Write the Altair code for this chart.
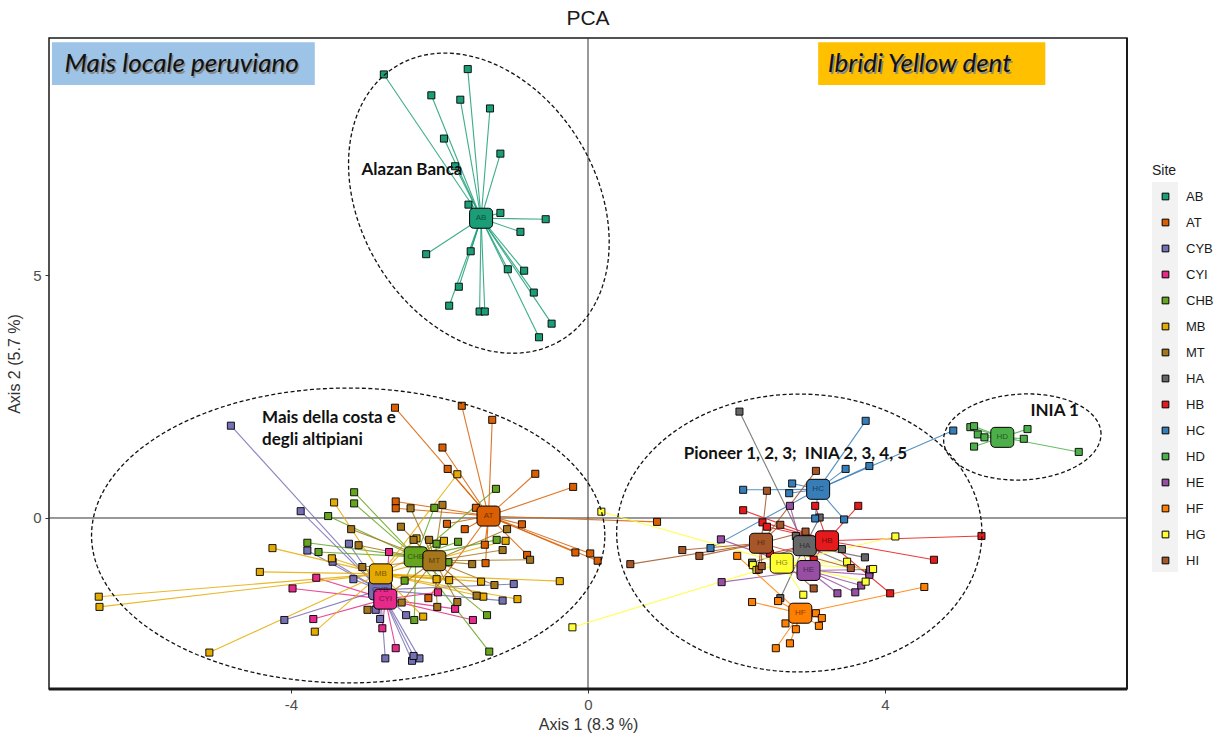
import numpy as np
import pandas as pd
import altair as alt

# Sites and their colours
sites = ["AB", "AT", "CYB", "CYI", "CHB", "MB", "MT",
         "HA", "HB", "HC", "HD", "HE", "HF", "HG", "HI"]
site_colors = ["#1B9E77", "#D95F02", "#7570B3", "#E7298A", "#66A61E", "#E6AB02", "#A6761D",
               "#666666", "#E41A1C", "#377EB8", "#4DAF4A", "#984EA3", "#FF7F00", "#FFFF33", "#A65628"]

# Individual scores on PCA axes 1 and 2, per site
ab_x = [-2.75, -1.62, -2.11, -1.72, -1.32, -1.94, -1.18, -1.79, -1.61, -1.18, -0.57, -0.91,
        -2.18, -1.58, -1.08, -0.86, -1.74, -0.73, -1.87, -1.46, -1.39, -0.49, -0.66]
ab_y = [9.13, 9.24, 8.70, 8.61, 8.43, 7.81, 7.50, 7.24, 6.45, 6.28, 6.15, 5.89,
        5.43, 5.49, 5.12, 5.09, 4.76, 4.64, 4.37, 4.25, 4.25, 4.00, 3.72]

at_x = [-2.60, -1.70, -1.29, -1.96, -1.89, -0.71, -0.20, -2.59, -2.59, -1.90, -1.66,
        -0.89, -1.39, -1.38, -0.82, -0.17, 0.03, 0.13, -2.15, 0.93, -1.51]
at_y = [2.27, 2.31, 2.02, 1.45, 1.01, 0.91, 0.64, 0.34, 0.20, -0.12, -0.23,
        -0.13, -0.55, -0.93, -0.76, -0.71, -0.73, -0.88, -1.65, -0.08, 0.21]

cyb_x = [-4.81, -3.87, -3.22, -3.78, -3.44, -3.16, -4.09, -2.80, -2.45, -2.73, -2.37,
         -2.27, -2.35, -1.00, -1.15, -2.86]
cyb_y = [1.90, 0.14, -0.53, -0.67, -0.90, -1.26, -2.10, -2.08, -2.00, -2.89, -2.94,
         -2.89, -2.84, -1.36, -1.70, -1.89]

cyi_x = [-2.68, -3.66, -3.98, -3.70, -2.77, -2.59, -2.02, -1.79, -1.55]
cyi_y = [-0.70, -1.23, -1.45, -2.08, -2.27, -2.68, -1.53, -1.87, -2.10]

chb_x = [-3.15, -3.15, -3.50, -3.78, -3.63, -1.24, -2.07, -1.75, -1.23, -2.04, -2.47,
         -2.34, -1.36, -1.33, -1.88]
chb_y = [0.53, 0.30, 0.04, -0.51, -0.70, 0.60, 0.21, -0.49, -0.45, -0.53, -1.29,
         -2.10, -2.00, -2.75, -0.91]

mb_x = [-3.42, -1.76, -4.25, -4.42, -6.59, -6.58, -5.10, -3.68, -0.38, -0.95, -1.41,
        -1.44, -1.11, -1.94, -1.87, -2.04, -3.45, -2.22, -2.31]
mb_y = [0.32, 0.90, -0.62, -1.11, -1.62, -1.83, -2.77, -2.34, -1.30, -1.67, -1.62,
        -1.31, -0.47, -0.47, -1.28, -1.26, -0.83, -2.03, -0.42]

mt_x = [-2.39, -2.52, -3.19, -3.09, -1.96, -2.14, -2.35, -1.56, -1.26, -1.50, -1.76,
        -2.03, -0.78, -1.15, -1.09, -2.97, -3.04, -2.51]
mt_y = [0.20, -0.18, -0.23, -0.56, 0.27, -0.45, -0.45, -0.95, -1.38, -1.60, -1.73,
        -1.83, -0.86, -0.66, -0.23, -1.89, -1.01, -1.74]

ha_x = [2.04, 3.12, 2.80, 3.42, 3.73, 2.59, 2.21, 3.79]
ha_y = [2.19, 0.01, -0.37, -0.64, -0.81, -1.65, -0.92, -1.13]

hb_x = [2.09, 2.35, 2.41, 3.06, 3.64, 5.30, 4.66, 4.07, 2.45, 3.04]
hb_y = [0.16, -0.09, -0.18, 0.25, 0.25, -0.37, -0.86, -1.55, -0.73, -0.86]

hc_x = [3.74, 4.92, 3.47, 3.79, 2.75, 2.09, 2.71, 3.06, 3.45, 1.65]
hc_y = [2.00, 1.80, 1.01, 1.07, 0.71, 0.58, 0.51, -0.01, -0.03, -0.62]

hd_x = [5.15, 5.20, 5.25, 5.34, 5.20, 5.92, 5.87, 6.61]
hd_y = [1.87, 1.89, 1.72, 1.66, 1.47, 1.83, 1.63, 1.36]

he_x = [2.72, 1.79, 1.80, 3.36, 3.60, 3.68, 3.79, 3.80]
he_y = [0.25, -0.44, -1.32, -1.55, -1.53, -1.39, -1.17, -1.06]

hf_x = [2.21, 2.56, 2.01, 4.53, 3.07, 3.15, 3.11, 2.66, 2.80, 2.72, 2.53]
hf_y = [-1.73, -1.71, -0.78, -1.42, -1.96, -2.06, -2.22, -2.17, -2.29, -2.58, -2.68]

hg_x = [4.14, 3.49, 3.84, 3.74, 2.90, 2.22, 2.27, 0.18, -0.21]
hg_y = [-0.38, -0.90, -1.05, -1.31, -1.58, -0.97, -1.07, 0.13, -2.25]

hi_x = [3.07, 2.41, 2.59, 2.93, 1.27, 1.50, 0.57, 2.30, 3.54, 3.04, 2.34]
hi_y = [0.97, 0.56, -0.14, -0.28, -0.66, -0.78, -0.95, -1.06, -1.03, -1.45, -0.99]

# Site centroids (where the site labels sit)
centroid_x = [-1.44, -1.34, -2.80, -2.73, -2.32, -2.79, -2.07,
              2.92, 3.22, 3.10, 5.58, 2.97, 2.86, 2.61, 2.33]
centroid_y = [6.17, 0.04, -1.48, -1.67, -0.80, -1.15, -0.88,
              -0.57, -0.47, 0.59, 1.66, -1.08, -1.96, -0.93, -0.52]

# Dashed group ellipses: centre and two conjugate half-axis vectors
ellipse_names = ["alazan", "costa", "ibridi", "inia1"]
ellipse_cx = [-1.47, -3.23, 2.846, 5.85]
ellipse_cy = [6.48, -0.36, -0.309, 1.667]
ellipse_ux = [1.10, 3.457, 2.46, 1.06]
ellipse_uy = [-2.83, 0.0, 0.0, 0.06]
ellipse_vx = [-1.368, 0.0, 0.0, 0.0]
ellipse_vy = [-1.239, 3.035, 2.86, 0.885]

# Header boxes
box_text = ["Mais locale peruviano", "Ibridi Yellow dent"]
box_fill = ["#9DC3E6", "#FFC000"]
box_x1 = [-7.22, 3.10]
box_x2 = [-3.68, 6.16]
box_y1 = [8.91, 8.91]
box_y2 = [9.79, 9.79]
box_text_x = [-7.05, 3.23]
box_text_y = [9.34, 9.34]

# Group notes
note_text = ["Alazan Banca", "Mais della costa e", "degli altipiani",
             "Pioneer 1, 2, 3;\u00a0 INIA 2, 3, 4, 5", "INIA 1"]
note_x = [-3.05, -4.39, -4.39, 1.29, 5.96]
note_y = [7.16, 2.06, 1.60, 1.32, 2.20]

# ---- tables -------------------------------------------------------------
scores = {
    "AB": (ab_x, ab_y), "AT": (at_x, at_y), "CYB": (cyb_x, cyb_y), "CYI": (cyi_x, cyi_y),
    "CHB": (chb_x, chb_y), "MB": (mb_x, mb_y), "MT": (mt_x, mt_y), "HA": (ha_x, ha_y),
    "HB": (hb_x, hb_y), "HC": (hc_x, hc_y), "HD": (hd_x, hd_y), "HE": (he_x, he_y),
    "HF": (hf_x, hf_y), "HG": (hg_x, hg_y), "HI": (hi_x, hi_y),
}
cent = pd.DataFrame({"site": sites, "cx": centroid_x, "cy": centroid_y})
rows = []
for s in sites:
    xs, ys = scores[s]
    c = cent[cent.site == s].iloc[0]
    for xv, yv in zip(xs, ys):
        rows.append({"site": s, "x": xv, "y": yv, "cx": c.cx, "cy": c.cy})
pts = pd.DataFrame(rows)

t = np.linspace(0, 2 * np.pi, 181)
ell_rows = []
for k, name in enumerate(ellipse_names):
    ex = ellipse_cx[k] + ellipse_ux[k] * np.cos(t) + ellipse_vx[k] * np.sin(t)
    ey = ellipse_cy[k] + ellipse_uy[k] * np.cos(t) + ellipse_vy[k] * np.sin(t)
    for i, (a, b) in enumerate(zip(ex, ey)):
        ell_rows.append({"ell": name, "i": i, "x": float(a), "y": float(b)})
ell = pd.DataFrame(ell_rows)

boxes = pd.DataFrame({"label": box_text, "fill": box_fill, "x1": box_x1, "x2": box_x2,
                      "y1": box_y1, "y2": box_y2, "tx": box_text_x, "ty": box_text_y})
notes = pd.DataFrame({"label": note_text, "x": note_x, "y": note_y})
one = pd.DataFrame({"k": [0]})

# ---- scales & axes ------------------------------------------------------
W, H = 1078, 651
FONT = "Liberation Sans"
xscale = alt.Scale(domain=[-7.26, 7.26], nice=False, zero=False)
yscale = alt.Scale(domain=[-3.52, 9.88], nice=False, zero=False)
xaxis = alt.Axis(values=[-4, 0, 4], grid=False, domain=False, tickColor="#333333", tickSize=4,
                 labelFontSize=15, labelColor="#4D4D4D", labelFont=FONT, labelPadding=4,
                 labelExpr="datum.value", title="Axis 1 (8.3 %)", titleFont=FONT,
                 titleFontSize=16, titleFontWeight="normal", titleColor="#333333", titlePadding=4)
yaxis = alt.Axis(values=[0, 5], grid=False, domain=False, tickColor="#333333", tickSize=4,
                 labelFontSize=15, labelColor="#4D4D4D", labelFont=FONT, labelPadding=4,
                 title="Axis 2 (5.7 %)", titleFont=FONT, titleFontSize=16,
                 titleFontWeight="normal", titleColor="#333333", titlePadding=10)


def X(f):
    return alt.X(f, type="quantitative", scale=xscale, axis=xaxis)


def Y(f):
    return alt.Y(f, type="quantitative", scale=yscale, axis=yaxis)


def site_scale():
    return alt.Scale(domain=sites, range=site_colors)


legend = alt.Legend(title="Site", orient="none", legendX=1103, legendY=126,
                    symbolType="square", symbolSize=45, symbolStrokeColor="black",
                    symbolStrokeWidth=1, symbolOpacity=1, symbolOffset=7, labelOffset=14,
                    labelFont=FONT, labelFontSize=13, labelColor="#1a1a1a",
                    titleFont=FONT, titleFontSize=14, titleFontWeight="normal",
                    titleColor="#1a1a1a", titlePadding=12, rowPadding=12)

# ---- layers -------------------------------------------------------------
key_band = alt.Chart(one).mark_rect(color="#F2F2F2").encode(
    x=alt.value(1103), x2=alt.value(1129), y=alt.value(144), y2=alt.value(534))

vzero = alt.Chart(one).mark_rule(color="#333333", strokeWidth=1).encode(x=alt.datum(0))
hzero = alt.Chart(one).mark_rule(color="#333333", strokeWidth=1).encode(y=alt.datum(0))

# spokes from each sample to its site centroid (stroke channel)
spokes = alt.Chart(pts).mark_rule(strokeWidth=1.1, opacity=0.85).encode(
    x=X("x"), y=Y("y"), x2="cx", y2="cy",
    stroke=alt.Stroke("site:N", scale=site_scale(), legend=None))

# samples (fill channel, carries the legend)
dots = alt.Chart(pts).mark_square(size=50, opacity=1, stroke="black", strokeWidth=0.9,
                                  filled=True).encode(
    x=X("x"), y=Y("y"),
    fill=alt.Fill("site:N", scale=site_scale(), legend=legend, sort=sites))

# centroid tags (color channel)
tags = alt.Chart(cent).mark_rect(width=23, height=20, cornerRadius=4, stroke="black",
                                 strokeWidth=1, opacity=1).encode(
    x=X("cx"), y=Y("cy"), color=alt.Color("site:N", scale=site_scale(), legend=None))

tag_text = alt.Chart(cent).mark_text(fontSize=8, font=FONT, color="black", opacity=0.5).encode(
    x=X("cx"), y=Y("cy"), text="site:N")

ellipses = alt.Chart(ell).mark_line(strokeDash=[4, 2.5], strokeWidth=1.3, color="#111111").encode(
    x=X("x"), y=Y("y"), detail="ell:N", order="i:Q")

box_rects = alt.Chart(boxes).mark_rect(opacity=1).encode(
    x=X("x1"), x2="x2", y=Y("y1"), y2="y2",
    fill=alt.Fill("fill:N", scale=None))

box_shadow = alt.Chart(boxes).mark_text(align="left", baseline="middle", fontSize=26,
                                        fontStyle="italic", font="Lato", color="#8a8a8a",
                                        dx=1.5, dy=1.5).encode(x=X("tx"), y=Y("ty"), text="label:N")
box_labels = alt.Chart(boxes).mark_text(align="left", baseline="middle", fontSize=26,
                                        fontStyle="italic", font="Lato", color="#111111").encode(
    x=X("tx"), y=Y("ty"), text="label:N")

note_labels = alt.Chart(notes).mark_text(align="left", baseline="middle", fontSize=17,
                                         fontWeight="bold", font="Lato", color="#111111").encode(
    x=X("x"), y=Y("y"), text="label:N")

bottom_edge = alt.Chart(one).mark_rule(color="#1a1a1a", strokeWidth=3).encode(y=alt.value(H))
right_edge = alt.Chart(one).mark_rule(color="#1a1a1a", strokeWidth=2).encode(x=alt.value(W))

chart = alt.layer(
    key_band, vzero, hzero, spokes, dots, tags, tag_text, ellipses,
    box_rects, box_shadow, box_labels, note_labels, bottom_edge, right_edge
).resolve_scale(fill="independent").properties(
    width=W, height=H,
    title=alt.TitleParams("PCA", fontSize=21, font=FONT, fontWeight="normal",
                          color="#1a1a1a", anchor="middle", offset=8),
    autosize=alt.AutoSizeParams(type="none"),
    padding={"left": 49, "top": 38, "right": 99, "bottom": 49},
    background="white",
).configure_view(stroke="#1a1a1a", strokeWidth=1.5)

chart.save("out.html", embed_options={"renderer": "svg", "actions": False})
